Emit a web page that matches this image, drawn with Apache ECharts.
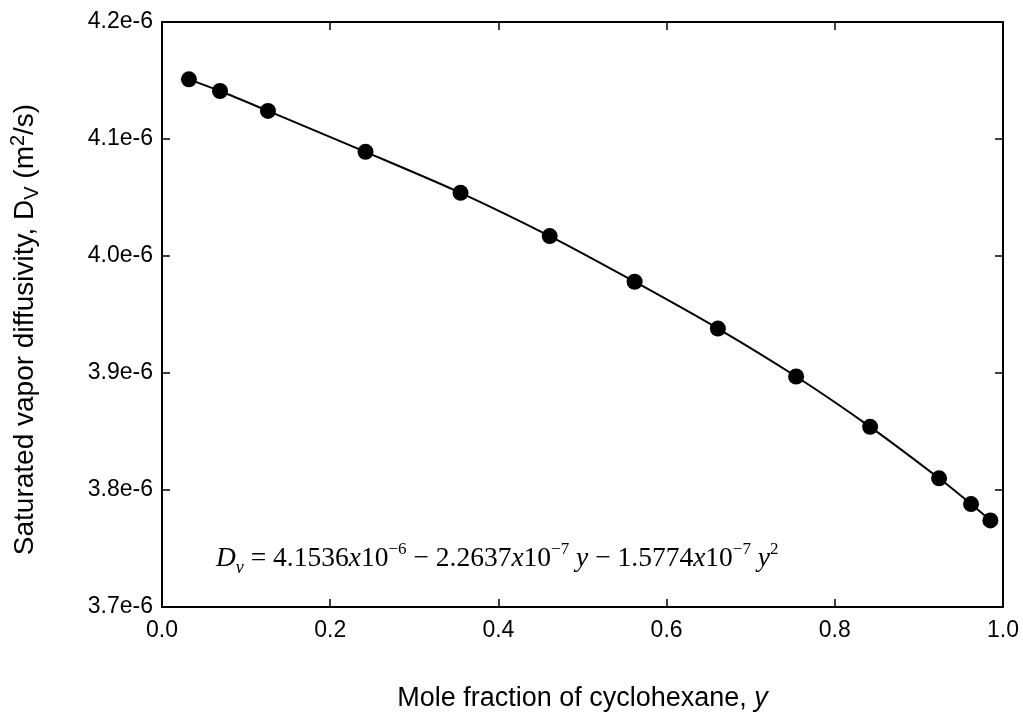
<!DOCTYPE html>
<html>
<head>
<meta charset="utf-8">
<title>Saturated vapor diffusivity vs mole fraction of cyclohexane</title>
<script src="https://cdn.jsdelivr.net/npm/echarts@6/dist/echarts.min.js"></script>
<style>
  html, body { margin: 0; padding: 0; background: #ffffff; }
  #chart { width: 1023px; height: 717px; }
</style>
</head>
<body>
<div id="chart"></div>
<script>
// Mole fraction of cyclohexane in the vapor, y
const moleFraction = [0.032, 0.069, 0.126, 0.242, 0.355, 0.461, 0.562, 0.661, 0.754, 0.842, 0.924, 0.962, 0.985];
// Saturated vapor diffusivity D_V, in units of 1e-6 m^2/s
const diffusivityE6 = [4.151, 4.141, 4.124, 4.089, 4.054, 4.017, 3.978, 3.938, 3.897, 3.854, 3.810, 3.788, 3.774];
// Axis ranges and tick steps
const xTicks = { min: 0, max: 1, step: 0.2 };
const yTicks = { min: 3.7, max: 4.2, step: 0.1 };

const points = moleFraction.map((x, i) => [x, diffusivityE6[i]]);

const labelFont = 'Liberation Sans, Arial, sans-serif';
const serifFont = 'Liberation Serif, Times New Roman, serif';
const ink = '#000000';

const axisCommon = {
  axisLine: { show: true, onZero: false, lineStyle: { color: ink, width: 2 } },
  axisTick: { show: true, inside: true, length: 8, lineStyle: { color: ink, width: 1.5 } },
  splitLine: { show: false }
};

const chart = echarts.init(document.getElementById('chart'), null, { renderer: 'canvas' });

chart.setOption({
  backgroundColor: '#ffffff',
  animation: false,
  grid: { left: 149, right: 20, top: 22, bottom: 94, containLabel: false },
  xAxis: [
    Object.assign({
      type: 'value', position: 'bottom',
      min: xTicks.min, max: xTicks.max, interval: xTicks.step,
      axisLabel: { color: ink, fontFamily: labelFont, fontSize: 23, margin: 12,
        formatter: v => v.toFixed(1) },
      name: '{n|Mole fraction of cyclohexane, }{i|y}',
      nameLocation: 'middle', nameGap: 78,
      nameTextStyle: {
        rich: {
          n: { fontFamily: labelFont, fontSize: 27, color: ink },
          i: { fontFamily: labelFont, fontSize: 27, color: ink, fontStyle: 'italic' }
        }
      }
    }, axisCommon),
    Object.assign({
      type: 'value', position: 'top',
      min: xTicks.min, max: xTicks.max, interval: xTicks.step,
      axisLabel: { show: false }
    }, axisCommon)
  ],
  yAxis: [
    Object.assign({
      type: 'value', position: 'left',
      min: yTicks.min, max: yTicks.max, interval: yTicks.step,
      axisLabel: { color: ink, fontFamily: labelFont, fontSize: 23, margin: 9,
        formatter: v => v.toFixed(1) + 'e-6' },
      name: '{n|Saturated vapor diffusivity, D}{sub|V}{n| (m}{sup|2}{n|/s)}',
      nameLocation: 'middle', nameGap: 120, nameRotate: 90,
      nameTextStyle: {
        padding: [0, 30, 0, 0],
        rich: {
          n: { fontFamily: labelFont, fontSize: 28, color: ink, lineHeight: 34 },
          sub: { fontFamily: labelFont, fontSize: 20, color: ink, verticalAlign: 'bottom', lineHeight: 26 },
          sup: { fontFamily: labelFont, fontSize: 20, color: ink, verticalAlign: 'top', lineHeight: 26 }
        }
      }
    }, axisCommon),
    Object.assign({
      type: 'value', position: 'right',
      min: yTicks.min, max: yTicks.max, interval: yTicks.step,
      axisLabel: { show: false }
    }, axisCommon)
  ],
  graphic: [{
    type: 'text',
    left: 216, top: 541,
    style: {
      text: '{it|D}{sb|v}{n| = 4.1536}{it|x}{n|10}{sp|−6}{n| − 2.2637}{it|x}{n|10}{sp|−7}{it| y}{n| − 1.5774}{it|x}{n|10}{sp|−7}{it| y}{sp|2}',
      rich: {
        n: { fontFamily: serifFont, fontSize: 27.5, fill: ink, lineHeight: 36 },
        it: { fontFamily: serifFont, fontSize: 27.5, fill: ink, fontStyle: 'italic', lineHeight: 36 },
        sb: { fontFamily: serifFont, fontSize: 18, fill: ink, fontStyle: 'italic', verticalAlign: 'bottom', lineHeight: 28 },
        sp: { fontFamily: serifFont, fontSize: 17, fill: ink, verticalAlign: 'top', lineHeight: 28 }
      }
    }
  }],
  series: [{
    type: 'line',
    data: points,
    smooth: 0.3,
    showSymbol: true,
    symbol: 'circle',
    symbolSize: 16,
    itemStyle: { color: ink },
    lineStyle: { color: ink, width: 2 },
    xAxisIndex: 0, yAxisIndex: 0,
    z: 5
  }]
});
</script>
</body>
</html>
